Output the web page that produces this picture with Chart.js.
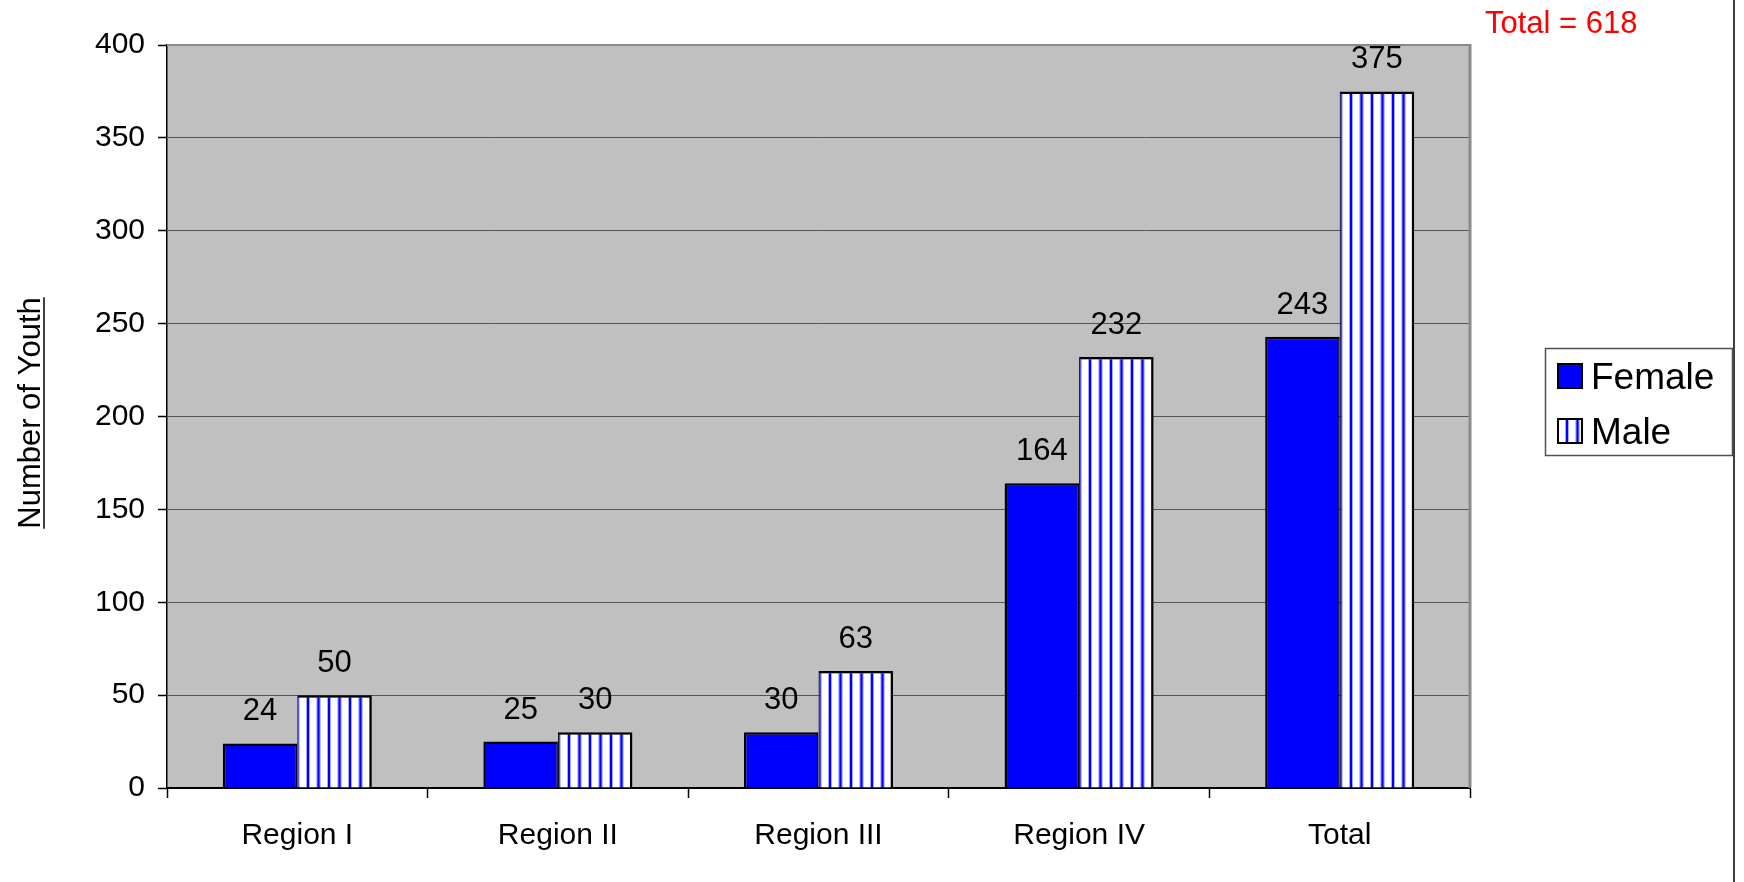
<!DOCTYPE html>
<html>
<head>
<meta charset="utf-8">
<script src="https://cdn.jsdelivr.net/npm/chart.js@4.4.1/dist/chart.umd.min.js"></script>
<style>
  html, body { margin: 0; padding: 0; background: #ffffff; }
  canvas { display: block; }
</style>
</head>
<body>
<canvas id="chart" width="1744" height="882"></canvas>
<script>
// Youth counts by region, split by sex
const categories = ['Region I', 'Region II', 'Region III', 'Region IV', 'Total'];
const female = [24, 25, 30, 164, 243];
const male = [50, 30, 63, 232, 375];
const seriesNames = ['Female', 'Male'];
const yTicks = [0, 50, 100, 150, 200, 250, 300, 350, 400];
const axisTitle = 'Number of Youth';
const totalNote = 'Total = 618';

const FONT = '"Liberation Sans", Arial, Helvetica, sans-serif';
const canvas = document.getElementById('chart');
const ctx = canvas.getContext('2d');

// Vertical blue-on-white stripe tile (two stripes per 21px, i.e. a 10.5px period)
function makeStripeTile() {
  const t = document.createElement('canvas');
  t.width = 21; t.height = 4;
  const g = t.getContext('2d');
  g.fillStyle = '#ffffff'; g.fillRect(0, 0, 21, 4);
  const col = (x, c) => { g.fillStyle = c; g.fillRect(x, 0, 1, 4); };
  col(3, '#a8a8ff'); col(4, '#0000ff'); col(5, '#0000ff'); col(6, '#a8a8ff');
  col(13, '#c0c0ff'); col(14, '#4a4aff'); col(15, '#0000ff'); col(16, '#4a4aff'); col(17, '#c0c0ff');
  return t;
}
const stripeTile = makeStripeTile();

function stripePattern(offsetX) {
  const p = ctx.createPattern(stripeTile, 'repeat');
  if (p.setTransform) p.setTransform(new DOMMatrix([1, 0, 0, 1, offsetX, 0]));
  return p;
}

// Male bars start at the category centre, so anchor the stripes there
function maleFill(c) {
  const xs = c.chart.scales && c.chart.scales.x;
  if (c.type !== 'data' || !xs || !isFinite(xs.getPixelForValue(c.dataIndex))) return stripePattern(0);
  return stripePattern(Math.round(xs.getPixelForValue(c.dataIndex) + 6));
}

const decor = {
  id: 'decor',
  beforeDraw(chart) {
    const { ctx: g, chartArea: a } = chart;
    g.save();
    g.fillStyle = '#c0c0c0';
    g.fillRect(a.left, a.top, a.right - a.left, a.bottom - a.top);
    g.restore();
  },
  beforeDatasetsDraw(chart) {
    const { ctx: g, chartArea: a } = chart;
    g.save();
    g.strokeStyle = '#8a8a8a';
    g.lineWidth = 2;
    g.beginPath();
    g.moveTo(a.left, a.top);
    g.lineTo(a.right, a.top);
    g.stroke();
    g.lineWidth = 3;
    g.beginPath();
    g.moveTo(a.right, a.top - 1);
    g.lineTo(a.right, a.bottom);
    g.stroke();
    g.restore();
  },
  afterDatasetsDraw(chart) {
    const g = chart.ctx;
    g.save();
    g.fillStyle = '#000000';
    g.font = '31px ' + FONT;
    g.textAlign = 'center';
    g.textBaseline = 'alphabetic';
    chart.data.datasets.forEach((ds, i) => {
      chart.getDatasetMeta(i).data.forEach((el, j) => {
        g.fillText(String(ds.data[j]), el.x, el.y - 23);
      });
    });
    g.restore();
  },
  afterDraw(chart) {
    const g = chart.ctx;
    g.save();

    // Legend box
    g.fillStyle = '#ffffff';
    g.fillRect(1545, 348, 188, 108);
    g.strokeStyle = '#505050';
    g.lineWidth = 1.5;
    g.strokeRect(1545.5, 348.5, 187, 107);

    const swatches = [
      { y: 363, fill: chart.data.datasets[0].backgroundColor },
      { y: 418, fill: stripePattern(1562) }
    ];
    swatches.forEach((s, i) => {
      g.fillStyle = s.fill;
      g.fillRect(1557, s.y, 26, 26);
      g.strokeStyle = '#000000';
      g.lineWidth = 2;
      g.strokeRect(1558, s.y + 1, 24, 24);
      g.fillStyle = '#000000';
      g.font = '37px ' + FONT;
      g.textAlign = 'left';
      g.textBaseline = 'alphabetic';
      g.fillText(seriesNames[i], 1591, s.y + 26);
    });

    // Overall total note
    g.fillStyle = '#ff0000';
    g.font = '31px ' + FONT;
    g.textAlign = 'left';
    g.fillText(totalNote, 1485, 33);

    // Y axis title, underlined
    g.translate(40, 413);
    g.rotate(-Math.PI / 2);
    g.fillStyle = '#000000';
    g.font = '31px ' + FONT;
    g.textAlign = 'center';
    g.textBaseline = 'alphabetic';
    g.fillText(axisTitle, 0, 0);
    const w = g.measureText(axisTitle).width;
    g.strokeStyle = '#000000';
    g.lineWidth = 1.5;
    g.beginPath();
    g.moveTo(-w / 2, 4);
    g.lineTo(w / 2, 4);
    g.stroke();
    g.setTransform(1, 0, 0, 1, 0, 0);

    // Page edge rule
    g.fillStyle = '#404040';
    g.fillRect(1733, 0, 2, 882);
    g.restore();
  }
};

new Chart(ctx, {
  type: 'bar',
  data: {
    labels: categories,
    datasets: [
      {
        label: seriesNames[0],
        data: female,
        backgroundColor: '#0000ff',
        borderColor: '#000000',
        borderWidth: { top: 2.5, left: 2.5, right: 1.5, bottom: 0 },
        borderSkipped: 'start'
      },
      {
        label: seriesNames[1],
        data: male,
        backgroundColor: maleFill,
        borderColor: '#000000',
        borderWidth: { top: 2.5, left: 1, right: 2.5, bottom: 0 },
        borderSkipped: 'start'
      }
    ]
  },
  options: {
    responsive: false,
    animation: false,
    devicePixelRatio: 1,
    layout: { padding: { left: 0, top: 45, right: 274, bottom: 0 } },
    datasets: { bar: { categoryPercentage: 0.572, barPercentage: 1 } },
    plugins: { legend: { display: false }, tooltip: { enabled: false } },
    scales: {
      x: {
        offset: true,
        grid: { display: true, offset: true, drawOnChartArea: false, drawTicks: true, tickLength: 10, tickColor: '#000000', tickWidth: 1.5 },
        border: { display: true, color: '#000000', width: 2 },
        ticks: { color: '#000000', font: { family: FONT, size: 30 }, padding: 20, maxRotation: 0 },
        afterFit(s) { s.height = 94; }
      },
      y: {
        min: 0,
        max: 400,
        afterBuildTicks(s) { s.ticks = yTicks.map(v => ({ value: v })); },
        ticks: { color: '#000000', font: { family: FONT, size: 30 }, padding: 13 },
        grid: { color: '#555555', lineWidth: 1, tickLength: 9, tickColor: '#000000', tickWidth: 1.5 },
        border: { display: true, color: '#000000', width: 1.5 },
        afterFit(s) { s.width = 167; }
      }
    }
  },
  plugins: [decor]
});
</script>
</body>
</html>
